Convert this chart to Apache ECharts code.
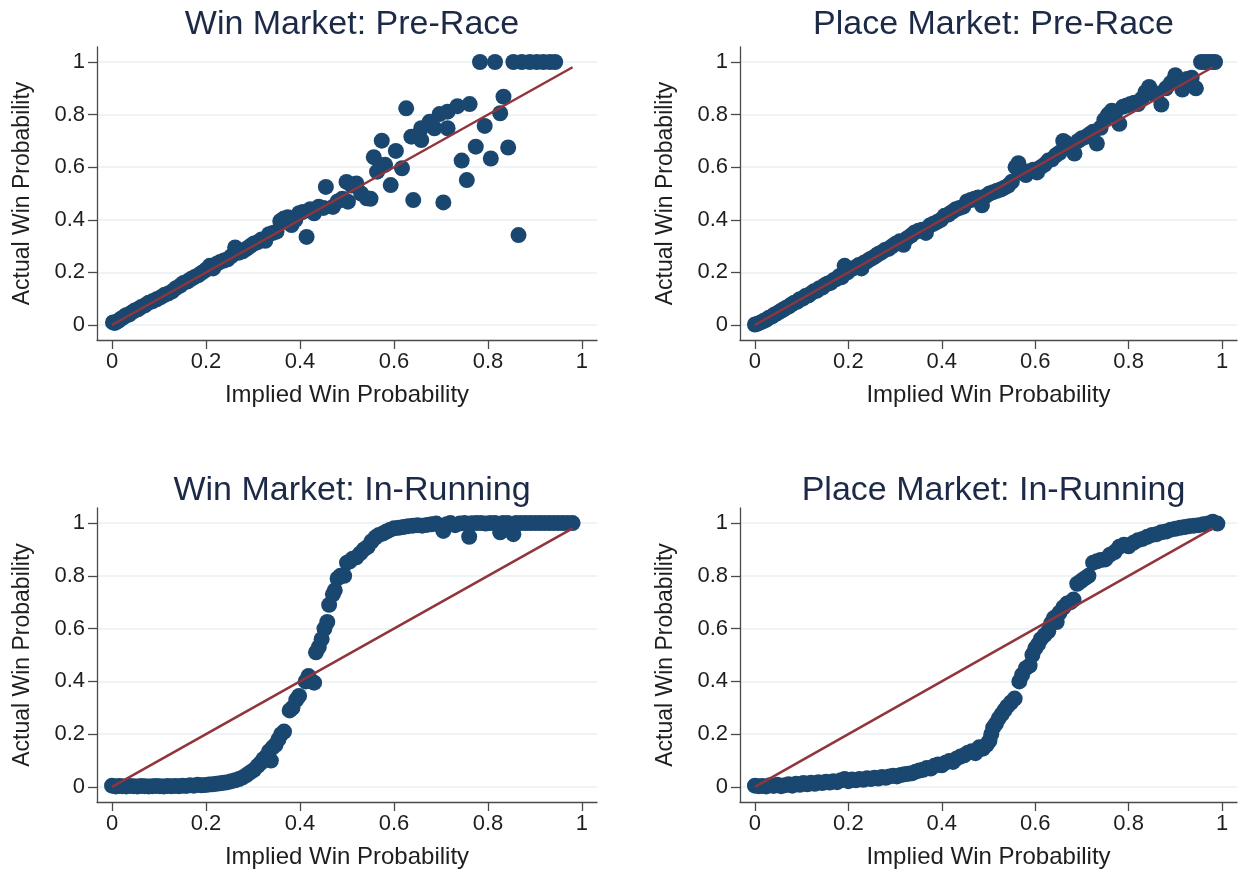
<!DOCTYPE html>
<html>
<head>
<meta charset="utf-8">
<script src="https://cdn.jsdelivr.net/npm/echarts@6/dist/echarts.min.js"></script>
<style>
html,body{margin:0;padding:0;background:#fff;}
#chart{width:1239px;height:871px;}
</style>
</head>
<body>
<div id="chart"></div>
<script>
// ---------- data ----------
const panelTitles = ["Win Market: Pre-Race", "Place Market: Pre-Race", "Win Market: In-Running", "Place Market: In-Running"];
const xAxisTitle = "Implied Win Probability";
const yAxisTitle = "Actual Win Probability";
const tickValues = [0, 0.2, 0.4, 0.6, 0.8, 1];
const fitLineX = [0, 0.98];

const winPreRace = [
[0.002,0.010],[0.006,0.008],[0.010,0.012],[0.015,0.018],[0.020,0.025],[0.025,0.030],[0.030,0.037],[0.036,0.040],
[0.042,0.048],[0.048,0.055],[0.055,0.060],[0.062,0.068],[0.070,0.075],[0.078,0.085],[0.086,0.090],[0.095,0.098],
[0.104,0.106],[0.112,0.115],[0.120,0.120],[0.128,0.128],[0.136,0.140],[0.145,0.150],[0.152,0.160],[0.160,0.165],
[0.168,0.175],[0.176,0.183],[0.184,0.190],[0.192,0.200],[0.200,0.210],[0.208,0.225],[0.215,0.215],[0.222,0.232],
[0.230,0.240],[0.238,0.245],[0.246,0.250],[0.254,0.262],[0.262,0.295],[0.270,0.275],[0.278,0.280],[0.286,0.290],
[0.294,0.300],[0.302,0.310],[0.310,0.315],[0.318,0.325],[0.326,0.320],[0.334,0.345],[0.342,0.350],[0.350,0.355],
[0.358,0.395],[0.366,0.405],[0.374,0.410],[0.382,0.380],[0.390,0.400],[0.398,0.425],[0.406,0.430],[0.414,0.335],
[0.422,0.440],[0.430,0.425],[0.440,0.450],[0.450,0.445],[0.455,0.525],[0.470,0.449],[0.480,0.470],[0.490,0.480],
[0.499,0.544],[0.502,0.469],[0.510,0.530],[0.520,0.538],[0.530,0.500],[0.542,0.482],[0.550,0.480],[0.557,0.638],
[0.564,0.583],[0.574,0.701],[0.581,0.609],[0.593,0.532],[0.604,0.662],[0.617,0.596],[0.626,0.824],[0.637,0.716],
[0.641,0.475],[0.658,0.748],[0.658,0.703],[0.676,0.773],[0.686,0.748],[0.697,0.802],[0.705,0.466],[0.714,0.811],
[0.714,0.748],[0.735,0.832],[0.744,0.625],[0.755,0.551],[0.761,0.840],[0.774,0.678],[0.783,1.000],[0.793,0.757],
[0.806,0.633],[0.815,1.000],[0.826,0.805],[0.833,0.868],[0.843,0.675],[0.854,1.000],[0.865,0.342],[0.872,1.000],
[0.889,1.000],[0.904,1.000],[0.918,1.000],[0.932,1.000],[0.943,1.000]
];

const placePreRace = [
[0.000,0.002],[0.006,0.005],[0.012,0.010],[0.018,0.015],[0.024,0.020],[0.030,0.028],[0.036,0.032],[0.042,0.040],
[0.048,0.045],[0.054,0.052],[0.060,0.058],[0.066,0.065],[0.072,0.070],[0.078,0.078],[0.084,0.085],[0.090,0.088],
[0.096,0.098],[0.102,0.100],[0.108,0.110],[0.114,0.112],[0.120,0.120],[0.126,0.128],[0.132,0.130],[0.138,0.140],
[0.144,0.142],[0.150,0.152],[0.156,0.158],[0.162,0.160],[0.168,0.170],[0.174,0.175],[0.180,0.185],[0.186,0.182],
[0.192,0.225],[0.198,0.200],[0.204,0.212],[0.210,0.215],[0.216,0.220],[0.222,0.228],[0.228,0.215],[0.234,0.238],
[0.240,0.242],[0.246,0.250],[0.252,0.255],[0.258,0.262],[0.264,0.270],[0.270,0.275],[0.278,0.285],[0.286,0.290],
[0.294,0.300],[0.302,0.310],[0.310,0.318],[0.318,0.305],[0.326,0.330],[0.334,0.340],[0.342,0.352],[0.350,0.358],
[0.358,0.362],[0.366,0.350],[0.374,0.378],[0.382,0.385],[0.390,0.392],[0.398,0.400],[0.406,0.415],[0.414,0.420],
[0.422,0.430],[0.430,0.440],[0.438,0.445],[0.446,0.450],[0.454,0.470],[0.462,0.475],[0.470,0.480],[0.478,0.485],
[0.486,0.455],[0.494,0.490],[0.502,0.500],[0.510,0.505],[0.518,0.510],[0.526,0.515],[0.534,0.522],[0.542,0.530],
[0.550,0.545],[0.558,0.600],[0.564,0.615],[0.572,0.580],[0.580,0.570],[0.588,0.585],[0.596,0.590],[0.604,0.580],
[0.612,0.600],[0.620,0.610],[0.628,0.625],[0.636,0.630],[0.644,0.645],[0.652,0.655],[0.660,0.700],[0.668,0.690],
[0.676,0.680],[0.684,0.652],[0.692,0.700],[0.700,0.710],[0.708,0.715],[0.716,0.725],[0.724,0.735],[0.732,0.690],
[0.740,0.750],[0.748,0.780],[0.756,0.800],[0.764,0.815],[0.772,0.810],[0.780,0.765],[0.788,0.830],[0.796,0.835],
[0.804,0.840],[0.812,0.845],[0.820,0.840],[0.828,0.860],[0.836,0.885],[0.844,0.905],[0.852,0.880],[0.860,0.880],
[0.870,0.838],[0.880,0.900],[0.890,0.920],[0.900,0.950],[0.910,0.930],[0.915,0.895],[0.925,0.935],[0.935,0.940],
[0.944,0.900],[0.955,1.000],[0.962,1.000],[0.970,1.000],[0.978,1.000],[0.985,1.000]
];

const winInRunning = [
[0.000,0.005],[0.008,0.002],[0.015,0.004],[0.022,0.003],[0.030,0.002],[0.038,0.004],[0.046,0.003],[0.054,0.002],
[0.062,0.004],[0.070,0.003],[0.078,0.002],[0.086,0.003],[0.094,0.004],[0.102,0.003],[0.110,0.002],[0.118,0.004],
[0.126,0.003],[0.134,0.004],[0.142,0.003],[0.150,0.005],[0.158,0.004],[0.166,0.006],[0.174,0.005],[0.182,0.008],
[0.190,0.006],[0.198,0.007],[0.206,0.009],[0.214,0.010],[0.222,0.012],[0.230,0.014],[0.238,0.016],[0.246,0.018],
[0.254,0.022],[0.262,0.025],[0.270,0.030],[0.278,0.036],[0.286,0.045],[0.294,0.055],[0.302,0.065],[0.310,0.080],
[0.316,0.090],[0.322,0.105],[0.328,0.115],[0.334,0.135],[0.338,0.100],[0.342,0.150],[0.348,0.160],[0.354,0.180],
[0.360,0.200],[0.366,0.210],[0.378,0.290],[0.384,0.300],[0.392,0.330],[0.398,0.345],[0.412,0.400],[0.418,0.420],
[0.424,0.400],[0.430,0.395],[0.434,0.510],[0.440,0.530],[0.446,0.560],[0.452,0.600],[0.458,0.625],[0.462,0.690],
[0.470,0.730],[0.474,0.745],[0.480,0.790],[0.486,0.800],[0.494,0.800],[0.500,0.850],[0.506,0.855],[0.512,0.865],
[0.520,0.870],[0.528,0.885],[0.536,0.900],[0.544,0.910],[0.552,0.930],[0.560,0.945],[0.568,0.955],[0.576,0.960],
[0.584,0.968],[0.592,0.975],[0.600,0.980],[0.610,0.982],[0.620,0.985],[0.630,0.988],[0.640,0.990],[0.650,0.992],
[0.660,0.990],[0.670,0.993],[0.680,0.995],[0.690,0.998],[0.700,0.990],[0.705,0.970],[0.712,0.995],[0.720,1.000],
[0.730,0.992],[0.740,0.998],[0.750,1.000],[0.760,0.948],[0.765,0.999],[0.775,1.000],[0.785,1.000],[0.795,0.998],
[0.805,1.000],[0.815,1.000],[0.826,0.965],[0.832,1.000],[0.842,1.000],[0.854,0.958],[0.860,1.000],[0.870,1.000],
[0.880,1.000],[0.890,1.000],[0.900,1.000],[0.910,1.000],[0.920,1.000],[0.930,1.000],[0.940,1.000],[0.950,1.000],
[0.960,1.000],[0.970,1.000],[0.980,1.000]
];

const placeInRunning = [
[0.000,0.005],[0.008,0.003],[0.016,0.004],[0.024,0.002],[0.032,0.006],[0.040,0.004],[0.048,0.008],[0.056,0.003],
[0.064,0.006],[0.072,0.010],[0.080,0.005],[0.088,0.012],[0.096,0.008],[0.104,0.015],[0.112,0.010],[0.120,0.016],
[0.128,0.012],[0.136,0.018],[0.144,0.015],[0.152,0.020],[0.160,0.017],[0.168,0.022],[0.176,0.018],[0.184,0.025],
[0.192,0.030],[0.200,0.022],[0.208,0.028],[0.216,0.025],[0.224,0.030],[0.232,0.027],[0.240,0.033],[0.248,0.030],
[0.256,0.035],[0.264,0.032],[0.272,0.038],[0.280,0.035],[0.288,0.040],[0.296,0.042],[0.304,0.040],[0.312,0.045],
[0.320,0.048],[0.328,0.050],[0.336,0.052],[0.344,0.058],[0.352,0.062],[0.360,0.065],[0.368,0.072],[0.376,0.070],
[0.384,0.080],[0.392,0.085],[0.400,0.082],[0.408,0.092],[0.416,0.098],[0.424,0.095],[0.432,0.108],[0.440,0.115],
[0.448,0.120],[0.456,0.130],[0.464,0.135],[0.472,0.128],[0.480,0.150],[0.488,0.145],[0.496,0.160],[0.502,0.175],
[0.506,0.200],[0.510,0.225],[0.516,0.240],[0.522,0.260],[0.528,0.275],[0.534,0.290],[0.540,0.305],[0.548,0.320],
[0.556,0.335],[0.566,0.400],[0.572,0.425],[0.580,0.450],[0.588,0.460],[0.594,0.500],[0.600,0.525],[0.606,0.540],
[0.612,0.560],[0.620,0.575],[0.628,0.590],[0.634,0.620],[0.640,0.640],[0.646,0.625],[0.652,0.660],[0.660,0.680],
[0.668,0.695],[0.676,0.700],[0.682,0.710],[0.690,0.770],[0.698,0.780],[0.706,0.790],[0.714,0.800],[0.724,0.850],
[0.732,0.855],[0.740,0.860],[0.750,0.862],[0.760,0.880],[0.770,0.890],[0.780,0.910],[0.790,0.918],[0.800,0.912],
[0.810,0.925],[0.820,0.935],[0.830,0.940],[0.840,0.948],[0.850,0.955],[0.860,0.958],[0.870,0.965],[0.880,0.968],
[0.890,0.975],[0.900,0.978],[0.910,0.982],[0.920,0.985],[0.930,0.988],[0.940,0.990],[0.950,0.992],[0.960,0.995],
[0.970,0.998],[0.980,1.005],[0.990,0.998]
];

const panelData = [winPreRace, placePreRace, winInRunning, placeInRunning];

// ---------- layout / style ----------
const FONT = "'Liberation Sans', Arial, Helvetica, sans-serif";
const grids = [
  {left: 97, top: 47, width: 500, height: 293},
  {left: 740, top: 47, width: 497, height: 293},
  {left: 97, top: 508, width: 500, height: 294},
  {left: 740, top: 508, width: 497, height: 294}
];
const titleTops = [3, 3, 469, 469];
const MARKER = '#1a476f';
const FITCOL = '#90353b';
const AXCOL = '#4a4a4a';
const TXT = '#1e1e1e';

const option = {
  animation: false,
  backgroundColor: '#ffffff',
  title: panelTitles.map((t, i) => ({
    text: t,
    left: grids[i].left + grids[i].width / 2,
    top: titleTops[i],
    textAlign: 'center',
    textStyle: {fontFamily: FONT, fontSize: 34, fontWeight: 'normal', color: '#1c2a48'}
  })),
  grid: grids.map(g => Object.assign({containLabel: false}, g)),
  xAxis: grids.map((g, i) => ({
    type: 'value', gridIndex: i, min: -0.032, max: 1.032,
    name: xAxisTitle, nameLocation: 'middle', nameGap: 43,
    nameTextStyle: {fontFamily: FONT, fontSize: 24, color: TXT},
    axisLine: {show: true, onZero: false, lineStyle: {color: AXCOL, width: 1.3}},
    axisTick: {show: true, length: 9, customValues: tickValues, lineStyle: {color: AXCOL, width: 1.3}},
    axisLabel: {customValues: tickValues, margin: 11, fontFamily: FONT, fontSize: 22, color: TXT,
      formatter: v => String(Math.round(v * 10) / 10)},
    splitLine: {show: false}
  })),
  yAxis: grids.map((g, i) => ({
    type: 'value', gridIndex: i, min: -0.057, max: 1.057,
    name: yAxisTitle, nameLocation: 'middle', nameGap: 63, nameRotate: 90,
    nameTextStyle: {fontFamily: FONT, fontSize: 23, color: TXT},
    axisLine: {show: true, onZero: false, lineStyle: {color: AXCOL, width: 1.3}},
    axisTick: {show: true, length: 9, customValues: tickValues, lineStyle: {color: AXCOL, width: 1.3}},
    axisLabel: {customValues: tickValues, margin: 12, fontFamily: FONT, fontSize: 22, color: TXT,
      formatter: v => String(Math.round(v * 10) / 10)},
    splitLine: {show: true, lineStyle: {color: '#e8eff2', width: 1.6}}
  })),
  series: []
};

panelData.forEach((d, i) => {
  option.series.push({
    type: 'scatter', xAxisIndex: i, yAxisIndex: i, data: d,
    symbol: 'circle', symbolSize: 16,
    itemStyle: {color: MARKER, opacity: 1},
    z: 2
  });
  option.series.push({
    type: 'line', xAxisIndex: i, yAxisIndex: i,
    data: fitLineX.map(x => [x, x]),
    symbol: 'none', lineStyle: {color: FITCOL, width: 2.5},
    z: 3
  });
});

const chart = echarts.init(document.getElementById('chart'), null, {renderer: 'canvas'});
chart.setOption(option);
</script>
</body>
</html>
